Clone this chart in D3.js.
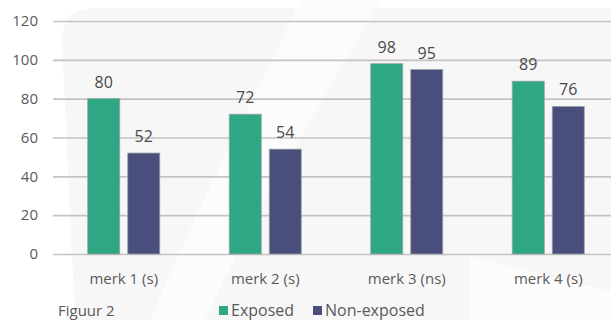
<!DOCTYPE html>
<html>
<head>
<meta charset="utf-8">
<script src="https://cdn.jsdelivr.net/npm/d3@7"></script>
<style>
  body { margin: 0; background: #fff; }
  svg { display: block; font-family: "Open Sans", Lato, sans-serif; }
</style>
</head>
<body>
<div id="content"></div>
<script>
// data
const categories = ["merk 1 (s)", "merk 2 (s)", "merk 3 (ns)", "merk 4 (s)"];
const series = ["Exposed", "Non-exposed"];
const exposed = [80, 72, 98, 89];
const nonExposed = [52, 54, 95, 76];
const yTicks = [0, 20, 40, 60, 80, 100, 120];
const colors = ["#2ea784", "#4a4e7c"];
const caption = "Figuur 2";

const w = 611, h = 320;
const left = 53, zeroY = 254, topY = 21;

const rows = categories.map((c, i) => ({ cat: c, vals: [exposed[i], nonExposed[i]] }));

const svg = d3.select("#content").append("svg")
  .attr("width", w).attr("height", h);

// faint background shapes
svg.append("path")
  .attr("d", "M62,40 Q62,8 95,8 L611,8 L611,320 L75,320 Z")
  .attr("fill", "#f7f7f8");
svg.append("path")
  .attr("d", "M300,0 L380,0 C330,90 260,200 205,320 L150,320 C200,200 260,90 300,0 Z")
  .attr("fill", "#fcfcfc");
svg.append("path")
  .attr("d", "M470,256 L611,292 L611,320 L470,320 Z")
  .attr("fill", "#fcfcfc");

const x0 = d3.scaleBand().domain(categories).range([left, 619])
  .paddingInner(0.491).paddingOuter(0.2455);
const x1 = d3.scaleBand().domain(series).range([0, x0.bandwidth()]).paddingInner(0.2);
const y = d3.scaleLinear().domain([0, 120]).range([zeroY, topY]);

// grid + y axis
const yAxis = d3.axisLeft(y).tickValues(yTicks).tickSize(-(w - left)).tickPadding(15);
const gy = svg.append("g").attr("transform", `translate(${left},0)`).call(yAxis);
gy.select(".domain").remove();
gy.selectAll(".tick line").attr("stroke", "#c3c3c3").attr("stroke-width", 1.6);
gy.selectAll(".tick text").attr("fill", "#5a5a5a").attr("font-size", 15)
  .attr("font-family", "'Open Sans', sans-serif");

// bars
const groups = svg.selectAll("g.grp").data(rows).enter().append("g")
  .attr("class", "grp")
  .attr("transform", d => `translate(${x0(d.cat)},0)`);

groups.selectAll("rect").data(d => d.vals.map((v, i) => ({ s: series[i], v: v, i: i })))
  .enter().append("rect")
  .attr("x", d => x1(d.s))
  .attr("y", d => y(d.v))
  .attr("width", x1.bandwidth())
  .attr("height", d => y(0) - y(d.v))
  .attr("fill", d => colors[d.i])
  .attr("stroke", "#9aa3a0").attr("stroke-width", 0.8);

groups.selectAll("text.val").data(d => d.vals.map((v, i) => ({ s: series[i], v: v })))
  .enter().append("text")
  .attr("class", "val")
  .attr("x", d => x1(d.s) + x1.bandwidth() / 2)
  .attr("y", d => y(d.v) - 11)
  .attr("text-anchor", "middle")
  .attr("font-size", 16)
  .attr("fill", "#4a4a4a")
  .text(d => d.v);

// x axis labels
const xAxis = d3.axisBottom(x0).tickSize(0).tickPadding(19);
const gx = svg.append("g").attr("transform", `translate(0,${zeroY})`).call(xAxis);
gx.select(".domain").remove();
gx.selectAll(".tick text").attr("fill", "#5a5a5a").attr("font-size", 15)
  .attr("font-family", "'Open Sans', sans-serif");

// caption + legend
svg.append("text").attr("x", 58).attr("y", 316).attr("font-size", 15)
  .attr("fill", "#5a5a5a").text(caption);

const legX = [219, 313];
const leg = svg.selectAll("g.leg").data(series).enter().append("g")
  .attr("class", "leg")
  .attr("transform", (d, i) => `translate(${legX[i]},0)`);
leg.append("rect").attr("x", 0).attr("y", 306).attr("width", 9).attr("height", 9)
  .attr("fill", (d, i) => colors[i]);
leg.append("text").attr("x", 12).attr("y", 316).attr("font-size", 16)
  .attr("fill", "#5a5a5a").text(d => d);
</script>
</body>
</html>
